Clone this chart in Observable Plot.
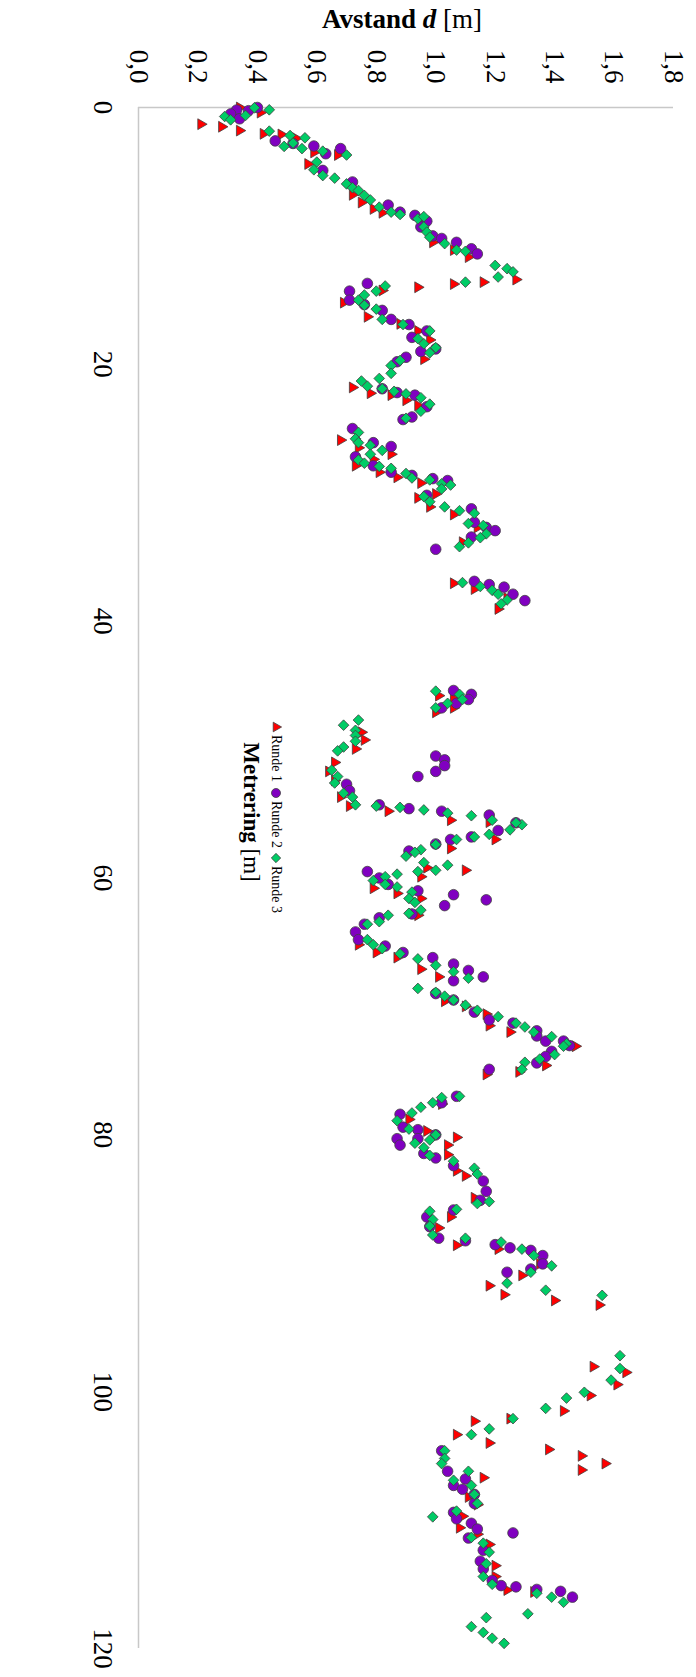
<!DOCTYPE html>
<html>
<head>
<meta charset="utf-8">
<script src="https://cdn.jsdelivr.net/npm/d3@7"></script>
<script src="https://cdn.jsdelivr.net/npm/@observablehq/plot@0.6"></script>
<style>
  html, body { margin: 0; padding: 0; background: #fff; }
  #chart svg { display: block; }
</style>
</head>
<body>
<div id="chart"></div>
<script>
// Avstand d [m] against metrering [m], three measurement rounds: [metrering, avstand]
const runde1 = [
  [0.0,0.34],[0.4,0.41],[1.3,0.21],[1.5,0.28],[1.8,0.34],[2.05,0.42],[2.1,0.48],[2.4,0.53],[3.5,0.59],[3.7,0.67],
  [4.4,0.57],[6.8,0.72],[7.4,0.75],[7.9,0.79],[8.2,0.82],[10.5,0.99],[11.1,1.06],[11.65,1.11],[13.4,1.27],[13.6,1.16],
  [13.75,1.06],[14.0,0.94],[14.25,0.82],[15.2,0.69],[16.3,0.77],[16.85,0.88],[17.4,0.94],[18.1,0.98],[19.6,0.96],
  [21.8,0.72],[22.25,0.78],[22.4,0.85],[22.8,0.90],[23.2,0.94],[25.9,0.68],[26.5,0.74],[27.0,0.85],[27.4,0.79],[27.9,0.73],
  [28.4,0.81],[28.8,0.87],[29.25,0.95],[30.4,0.94],[31.1,0.98],[30.1,1.0],[31.7,1.06],[32.7,1.14],[33.85,1.09],[37.05,1.06],
  [37.5,1.13],[38.2,1.24],[39.05,1.21],
  [45.8,1.01],[46.05,1.06],[47.1,1.0],[46.75,1.06],[48.65,0.75],[49.25,0.76],[49.95,0.73],[51.0,0.66],[51.7,0.64],[52.4,0.66],
  [53.7,0.68],[54.4,0.71],[54.8,0.84],[55.5,1.05],[55.65,1.18],[57.0,1.2],[57.7,1.05],[59.2,0.97],[59.9,0.95],[59.4,1.1],
  [60.8,0.79],[61.2,0.87],[61.6,0.95],[62.9,0.94],[65.2,0.74],[65.8,0.8],[66.2,0.87],[67.1,0.95],[67.7,1.01],[69.6,1.03],
  [70.0,1.1],[70.6,1.17],[71.5,1.18],[72.0,1.25],[73.1,1.47],[74.6,1.37],[75.1,1.28],[75.3,1.17],[77.6,1.02],[78.8,0.91],
  [79.7,0.97],[80.2,1.07],[80.8,1.04],
  [81.55,1.04],[82.8,1.07],[83.2,1.10],[84.9,1.13],[86.4,1.05],[87.25,1.01],[88.6,1.07],[88.9,1.21],[90.95,1.29],[90.05,1.35],
  [91.75,1.18],[92.45,1.23],[92.9,1.40],[93.25,1.55],[98.05,1.53],[98.5,1.64],[99.45,1.61],[100.3,1.52],[101.5,1.43],
  [102.3,1.13],[102.1,1.25],[103.35,1.07],[104.0,1.18],[104.5,1.38],[105.0,1.49],[105.6,1.57],[106.1,1.49],[106.7,1.16],
  [108.2,1.11],[108.8,1.14],[109.7,1.09],[110.6,1.08],[111.1,1.14],[111.9,1.18],[113.55,1.2],[114.4,1.2],[115.45,1.24],[115.6,1.33]
];

const runde2 = [
  [0.2,0.33],[0.0,0.40],[0.5,0.31],[0.88,0.34],[0.25,0.37],[2.6,0.46],[2.8,0.52],[3.0,0.59],[3.6,0.63],[3.2,0.68],
  [4.9,0.62],[5.8,0.72],[7.6,0.84],[8.15,0.88],[8.4,0.93],[8.85,0.97],[9.3,0.95],[10.0,0.99],[10.2,1.02],[10.5,1.07],
  [11.0,1.12],[11.4,1.14],[13.7,0.77],[14.3,0.71],[15.0,0.71],[15.35,0.76],[15.8,0.82],[16.5,0.85],[16.9,0.91],[17.4,0.97],
  [17.9,0.92],[18.8,1.0],[19.0,0.95],[19.45,0.90],[19.8,0.87],
  [21.9,0.82],[22.2,0.87],[22.4,0.93],[23.3,0.97],[24.3,0.89],[24.1,0.92],[25.0,0.72],[26.1,0.79],[26.4,0.85],[27.2,0.73],
  [27.9,0.79],[28.4,0.85],[28.65,0.92],[28.9,0.99],[29.05,1.04],[30.2,0.97],[31.25,1.12],[32.3,1.13],[32.7,1.17],[32.95,1.2],
  [33.45,1.12],[34.4,1.0],[36.9,1.13],[37.15,1.18],[37.35,1.23],[37.9,1.26],[38.4,1.30],
  [45.4,1.06],[45.7,1.12],[46.1,1.11],[46.4,1.07],[46.75,1.02],[50.5,1.0],[50.8,1.03],[51.25,1.03],[51.7,1.0],[52.1,0.94],
  [52.7,0.70],[53.2,0.71],[54.3,0.81],[54.6,0.91],[54.8,1.02],[55.1,1.18],[56.3,1.21],[55.7,1.27],[57.0,1.05],[56.8,1.12],
  [57.35,1.0],[57.9,0.91],[59.5,0.77],[60.0,0.81],[60.5,0.84],
  [61.0,0.94],[61.3,1.06],[61.7,1.17],[62.15,1.03],[62.8,0.92],[63.1,0.81],[63.6,0.76],[64.2,0.73],[64.8,0.74],[65.3,0.83],
  [65.8,0.89],[66.2,0.99],[66.7,1.06],[67.2,1.11],[67.7,1.16],[68.0,1.06],[69.0,1.0],[69.5,1.06],[70.45,1.13],[71.05,1.18],
  [71.3,1.26],[71.9,1.34],[72.3,1.34],[72.7,1.37],[72.7,1.43],[73.05,1.45],[73.5,1.39],[73.9,1.37],[74.4,1.34],[74.9,1.18],
  [77.0,1.07],[77.5,1.02],[78.4,0.88],[79.4,0.89],[79.6,0.94],[80.3,0.87],[80.8,0.88],[80.0,1.0],[80.3,0.94],
  [81.45,0.96],[81.8,1.0],[82.4,1.06],[83.6,1.16],[84.4,1.17],[85.1,1.15],[85.85,1.06],[86.4,0.97],[87.15,0.98],[88.05,1.01],
  [88.25,1.1],[88.55,1.2],[88.8,1.25],[89.0,1.32],[89.4,1.36],[90.05,1.36],[90.45,1.32],[90.7,1.24],
  [104.6,1.02],[106.2,1.04],[106.8,1.10],[107.3,1.06],[107.6,1.09],[108.0,1.13],[108.7,1.13],[109.4,1.06],[109.9,1.07],
  [110.25,1.12],[110.7,1.14],[111.4,1.11],[111.0,1.26],[112.35,1.16],[113.2,1.15],[113.8,1.16],[114.7,1.19],[115.1,1.22],
  [115.2,1.27],[115.4,1.34],[115.55,1.42],[116.0,1.46]
];

const runde3 = [
  [0.7,0.29],[0.96,0.31],[0.62,0.36],[0.02,0.39],[0.18,0.44],[1.84,0.44],[2.18,0.51],[2.36,0.56],[3.03,0.49],[2.77,0.52],
  [3.2,0.55],[3.4,0.62],[3.7,0.70],[4.25,0.60],[4.85,0.59],[5.3,0.62],[5.5,0.66],[5.95,0.70],[6.25,0.72],[6.46,0.74],
  [6.85,0.76],[7.2,0.78],[7.76,0.81],[8.15,0.85],[8.33,0.88],[8.67,0.94],[8.5,0.96],[9.3,0.96],[9.7,0.97],[10.1,0.98],
  [10.6,1.03],[11.1,1.07],[11.2,1.10],[12.3,1.20],[12.55,1.24],[12.8,1.26],[13.2,1.21],[13.6,1.10],[13.9,0.83],[14.3,0.80],
  [14.6,0.76],[15.0,0.74],[15.4,0.76],[15.7,0.80],[16.5,0.82],[16.9,0.89],[17.4,0.98],[18.0,0.94],[18.4,0.96],[18.7,1.0],
  [19.1,0.98],[19.7,0.88],[20.1,0.85],
  [20.7,0.85],[21.3,0.75],[21.1,0.81],[21.7,0.77],[21.9,0.82],[22.1,0.86],[22.3,0.90],[22.6,0.95],[23.1,0.98],[23.65,0.95],
  [24.2,0.90],[25.3,0.74],[25.8,0.73],[26.1,0.74],[26.3,0.78],[26.7,0.82],[27.0,0.78],[27.45,0.74],[27.7,0.76],[27.95,0.81],
  [28.1,0.85],[28.5,0.90],[28.85,0.92],[29.0,0.98],[29.3,1.02],[29.4,1.05],[29.7,1.02],[30.3,0.96],[30.7,0.98],[31.1,1.03],
  [31.4,1.08],[31.6,1.13],[32.4,1.11],[32.55,1.16],[33.2,1.17],[33.5,1.15],[33.9,1.11],[34.2,1.08],[37.0,1.09],[37.3,1.15],
  [37.6,1.19],[37.9,1.21],[38.35,1.24],[38.65,1.22],
  [45.45,1.0],[45.7,1.08],[46.1,1.09],[46.4,1.04],[46.75,1.0],[47.7,0.74],[48.1,0.69],[48.5,0.73],[48.9,0.73],[49.35,0.73],
  [49.8,0.69],[50.1,0.67],[51.6,0.65],[52.1,0.67],[52.6,0.66],[53.4,0.69],[53.7,0.72],[54.3,0.73],[54.4,0.80],[54.5,0.88],
  [54.7,0.96],[54.95,1.04],[55.15,1.12],[55.5,1.19],[56.25,1.25],[55.85,1.29],[55.7,1.27],[56.6,1.18],[56.8,1.13],[57.0,1.07],
  [57.4,1.0],[57.8,0.95],[58.0,0.93],[58.3,0.90],[58.8,0.96],[59.0,1.04],[59.4,1.0],[59.5,0.94],[59.7,0.87],[59.9,0.83],
  [60.2,0.79],[60.5,0.83],[60.7,0.87],[61.1,0.92],[61.6,0.91],[61.9,0.93],[62.5,0.95],[62.75,0.91],[62.9,0.84],[63.4,0.81],
  [63.6,0.77],[64.8,0.77],[65.2,0.79],[65.5,0.82],[65.9,0.88],[66.3,0.94],[66.8,1.0],[67.3,1.06],[67.8,1.11],[68.6,0.94],
  [68.9,1.0],[69.2,1.03],[69.5,1.06],[69.9,1.10],[70.3,1.14],[70.8,1.21],[71.3,1.27],[71.6,1.30],[72.0,1.33],[72.35,1.39],
  [72.9,1.44],[73.1,1.43],[73.75,1.40],[74.1,1.35],[74.35,1.30],[74.9,1.29],[77.0,1.08],[77.1,1.02],[77.5,0.99],[77.85,0.95],
  [78.3,0.92],[78.9,0.87],[79.55,0.91],[80.4,0.98],[80.0,1.0],[80.65,0.93],[81.0,0.96],
  [81.6,0.98],[82.05,1.06],[82.6,1.13],[83.05,1.14],[85.2,1.18],[85.35,1.14],[85.8,1.07],[85.95,0.98],[86.6,0.99],[87.1,0.98],
  [87.8,0.99],[88.05,1.10],[88.35,1.22],[88.9,1.29],[89.4,1.33],[90.2,1.39],[90.7,1.32],[91.55,1.24],[92.1,1.37],[92.5,1.56],
  [97.2,1.62],[98.2,1.62],[99.1,1.59],[100.05,1.50],[100.5,1.44],[101.3,1.37],
  [102.1,1.26],[102.9,1.18],[103.35,1.12],[104.6,1.03],[105.2,1.03],[105.6,1.02],[106.2,1.11],[106.9,1.06],[107.3,1.12],
  [108.0,1.13],[108.7,1.14],[109.75,0.99],[109.3,1.07],[111.35,1.12],[111.8,1.16],[112.5,1.18],[113.4,1.17],[114.4,1.16],
  [115.0,1.19],[115.7,1.34],[116.0,1.39],[116.4,1.43],[117.3,1.31],[117.6,1.17],[118.3,1.12],[118.75,1.16],[119.2,1.19],[119.6,1.23]
];

const avstandTicks = [0, 0.2, 0.4, 0.6, 0.8, 1.0, 1.2, 1.4, 1.6, 1.8];
const metreringTicks = [0, 20, 40, 60, 80, 100, 120];
const seriesNames = ["Runde 1", "Runde 2", "Runde 3"];
const seriesColors = ["#ff0000", "#8000c0", "#00cc66"];

const FONT = "Liberation Serif, Times New Roman, serif";
const OUTLINE = "#404040";

// Triangle pointing along +x (the metrering axis runs downward here)
const triangleRight = {
  draw(context, size) {
    const k = 1.25 * Math.sqrt(size / Math.PI);
    context.moveTo(k, 0);
    context.lineTo(-k / 2, k * 0.866);
    context.lineTo(-k / 2, -k * 0.866);
    context.closePath();
  }
};
const triangleUp = {
  draw(context, size) {
    const k = 1.25 * Math.sqrt(size / Math.PI);
    context.moveTo(0, -k);
    context.lineTo(k * 0.866, k / 2);
    context.lineTo(-k * 0.866, k / 2);
    context.closePath();
  }
};

const comma = d => d.toFixed(1).replace(".", ",");

const chart = Plot.plot({
  width: 696,
  height: 1677,
  marginLeft: 138,
  marginRight: 23,
  marginTop: 107,
  marginBottom: 29,
  style: { fontFamily: FONT, background: "#fff", color: "#000" },
  x: { domain: [0, 1.8], axis: null },
  y: { domain: [0, 120], reverse: true, axis: null },
  marks: [
    Plot.ruleY([0], { stroke: "#c8c8c8", strokeWidth: 1.5 }),
    Plot.ruleX([0], { stroke: "#c8c8c8", strokeWidth: 1.5 }),
    Plot.text(avstandTicks, {
      x: d => d, text: comma, frameAnchor: "top", dy: -41, rotate: 90,
      textAnchor: "middle", lineAnchor: "middle", fontSize: 27, fill: "#000"
    }),
    Plot.text(metreringTicks, {
      y: d => d, text: d => String(d), frameAnchor: "left", dx: -36, rotate: 90,
      textAnchor: "middle", lineAnchor: "middle", fontSize: 27, fill: "#000"
    }),
    Plot.dot(runde1, {
      x: d => d[1], y: d => d[0], symbol: triangleRight, r: 5,
      fill: seriesColors[0], stroke: OUTLINE, strokeWidth: 0.8
    }),
    Plot.dot(runde2, {
      x: d => d[1], y: d => d[0], symbol: "circle", r: 5.3,
      fill: seriesColors[1], stroke: OUTLINE, strokeWidth: 0.8
    }),
    Plot.dot(runde3, {
      x: d => d[1], y: d => d[0], symbol: "diamond2", r: 4.8,
      fill: seriesColors[2], stroke: OUTLINE, strokeWidth: 0.8
    })
  ]
});

const svg = d3.select(chart);

// Axis title across the top
const title = svg.append("text")
  .attr("x", 402).attr("y", 28)
  .attr("text-anchor", "middle")
  .attr("font-family", FONT).attr("font-size", 27).attr("fill", "#000");
title.append("tspan").attr("font-weight", "bold").text("Avstand ");
title.append("tspan").attr("font-weight", "bold").attr("font-style", "italic").text("d");
title.append("tspan").text(" [m]");

// Metrering title, turned with the rest of the chart
const mTitle = svg.append("g").attr("transform", "translate(252,812) rotate(90)")
  .append("text")
  .attr("text-anchor", "middle").attr("dominant-baseline", "central")
  .attr("font-family", FONT).attr("font-size", 23).attr("fill", "#000");
mTitle.append("tspan").attr("font-weight", "bold").text("Metrering");
mTitle.append("tspan").text(" [m]");

// Legend row
const legend = svg.append("g").attr("transform", "translate(276,816) rotate(90)");
const legendSymbols = [
  d3.symbol(triangleUp, Math.PI * 20)(),
  d3.symbol(d3.symbolCircle, Math.PI * 4.5 * 4.5)(),
  d3.symbol(d3.symbolDiamond2, Math.PI * 4.2 * 4.2)()
];
const itemStart = [-89, -23, 42];
seriesNames.forEach((name, i) => {
  legend.append("path")
    .attr("d", legendSymbols[i])
    .attr("transform", `translate(${itemStart[i]},0)`)
    .attr("fill", seriesColors[i]).attr("stroke", OUTLINE).attr("stroke-width", 0.8);
  legend.append("text")
    .attr("x", itemStart[i] + 8).attr("y", 0)
    .attr("text-anchor", "start")
    .attr("dominant-baseline", "central")
    .attr("font-family", FONT).attr("font-size", 14).attr("fill", "#000")
    .text(name);
});

document.getElementById("chart").append(chart);
</script>
</body>
</html>
